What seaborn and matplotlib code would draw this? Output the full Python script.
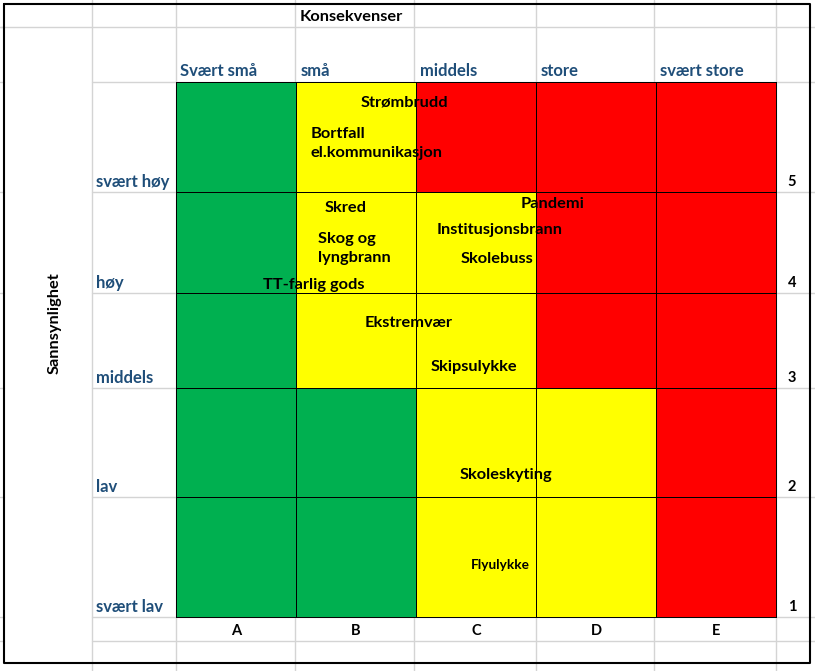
import numpy as np
import matplotlib
matplotlib.use("Agg")
import matplotlib.pyplot as plt
from matplotlib.colors import ListedColormap
import seaborn as sns

# --- data ---
konsekvens = ["Svært små", "små", "middels", "store", "svært store"]
kolonne_bokstav = ["A", "B", "C", "D", "E"]
sannsynlighet = ["svært høy", "høy", "middels", "lav", "svært lav"]
nivaa = ["5", "4", "3", "2", "1"]

# 0 = grønn, 1 = gul, 2 = rød  (rader fra 5 ned til 1)
risiko = np.array([
    [0, 1, 2, 2, 2],
    [0, 1, 1, 2, 2],
    [0, 1, 1, 2, 2],
    [0, 0, 1, 1, 2],
    [0, 0, 1, 1, 2],
])

# hendelser: navn, rad (indeks i sannsynlighet), x i kolonne-enheter (venstre kant), y-andel i raden
hendelse_navn = ["Strømbrudd", "Bortfall\nel.kommunikasjon", "Skred", "Skog og\nlyngbrann",
                 "TT-farlig gods", "Pandemi", "Institusjonsbrann", "Skolebuss",
                 "Ekstremvær", "Skipsulykke", "Skoleskyting", "Flyulykke"]
hendelse_rad = [0, 0, 1, 1, 1, 1, 1, 1, 2, 2, 3, 4]
hendelse_x = [1.54, 1.12, 1.24, 1.18, 0.725, 2.875, 2.17, 2.375, 1.575, 2.125, 2.36, 2.46]
hendelse_y = [0.19, 0.56, 0.16, 0.56, 0.92, 0.12, 0.38, 0.66, 0.32, 0.78, 0.80, 0.57]
hendelse_str = [11.8, 11.8, 11.8, 11.8, 11.8, 11.8, 11.8, 11.8, 11.8, 11.8, 11.8, 9.8]

# --- layout (piksler) ---
W, H = 815, 671
kol_kanter = [92, 176, 295, 414, 536, 654, 776]
rad_kanter = [82, 192, 293, 388, 497, 617]
rutenett_rader = [27, 82, 192, 293, 388, 497, 617, 641]
ramme = (4, 4, 810, 663)

sns.set_style("white")
plt.rcParams["font.family"] = ["Lato", "DejaVu Sans"]
plt.rcParams["font.weight"] = "bold"

fig = plt.figure(figsize=(W / 100, H / 100), dpi=100)

# bakgrunn: regnearkets rutenett
bg = fig.add_axes([0, 0, 1, 1])
bg.set_xlim(0, W)
bg.set_ylim(H, 0)
bg.axis("off")
grid_col = "#d4d4d4"
for x in kol_kanter:
    bg.plot([x, x], [0, H], color=grid_col, lw=1, zorder=0)
for y in rutenett_rader:
    x0 = 0 if y == 27 else kol_kanter[0]
    bg.plot([x0, W], [y, y], color=grid_col, lw=1, zorder=0)
    bg.plot([0, ramme[0]], [y, y], color=grid_col, lw=1, zorder=0)
x0, y0, x1, y1 = ramme
bg.plot([x0, x1, x1, x0, x0], [y0, y0, y1, y1, y0], color="black", lw=1.5, zorder=1)

# risikomatrise: en heatmap per rad (ulike radhøyder)
farger = ListedColormap(["#00b050", "#ffff00", "#ff0000"])
hoyder = np.diff(rad_kanter)
gs = fig.add_gridspec(len(sannsynlighet), 1, height_ratios=hoyder, hspace=0,
                      left=kol_kanter[1] / W, right=kol_kanter[-1] / W,
                      top=1 - rad_kanter[0] / H, bottom=1 - rad_kanter[-1] / H)
rad_akser = []
for i in range(len(sannsynlighet)):
    ax = fig.add_subplot(gs[i, 0])
    sns.heatmap(risiko[i:i + 1], cmap=farger, vmin=-0.5, vmax=2.5, cbar=False,
                linewidths=0.7, linecolor="black", xticklabels=False, yticklabels=False, ax=ax)
    for s in ax.spines.values():
        s.set_visible(True)
        s.set_color("black")
        s.set_linewidth(0.7)
    ax.tick_params(length=0)
    rad_akser.append(ax)

# kolonnebokstaver under matrisen
rad_akser[-1].set_xticks(np.arange(len(kolonne_bokstav)) + 0.5)
rad_akser[-1].set_xticklabels(kolonne_bokstav, fontsize=10.5, fontweight="bold", color="black")
rad_akser[-1].tick_params(axis="x", pad=5, length=0)

# hendelser
for navn, r, x, y, fs in zip(hendelse_navn, hendelse_rad, hendelse_x, hendelse_y, hendelse_str):
    rad_akser[r].text(x, y, navn, ha="left", va="center", fontsize=fs, fontweight="bold",
                      color="black", linespacing=1.5, clip_on=False, zorder=5)

# kolonneoverskrifter
blaa = "#1f4e79"
topp = rad_akser[0]
for j, k in enumerate(konsekvens):
    topp.annotate(k, xy=(j, 0), xytext=(3, 2), textcoords="offset points", xycoords="data",
                  ha="left", va="bottom", fontsize=12, fontweight="bold", color=blaa,
                  annotation_clip=False)

# radetiketter venstre og nivåtall høyre
for i, (lab, n) in enumerate(zip(sannsynlighet, nivaa)):
    yb = rad_kanter[i + 1]
    bg.text(kol_kanter[0] + 4, yb - 2, lab, ha="left", va="bottom", fontsize=12,
            fontweight="bold", color=blaa)
    bg.text(792, yb - 3, n, ha="center", va="bottom", fontsize=10.5,
            fontweight="bold", color="black")

bg.text(300, 17, "Konsekvenser", ha="left", va="center", fontsize=11.8, fontweight="bold", color="black")
bg.text(55, 323, "Sannsynlighet", ha="center", va="center", rotation=90, fontsize=11.8,
        fontweight="bold", color="black")

fig.savefig("out.png", dpi=100)
